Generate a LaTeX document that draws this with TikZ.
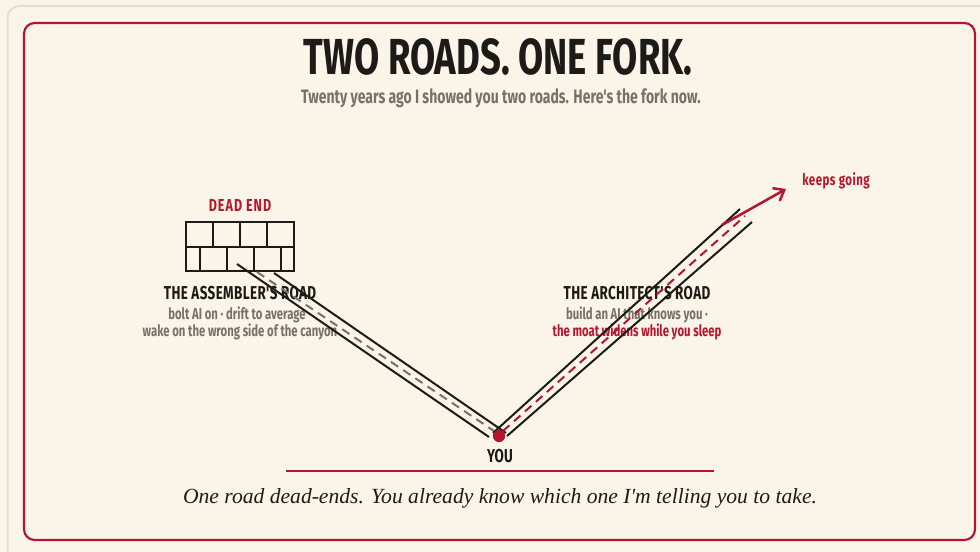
\documentclass[tikz,border=0pt]{standalone}
\usepackage{fontspec}
\usepackage{xcolor}
\setmainfont{Liberation Serif}[Ligatures=TeXOff]
\newfontfamily\oswald[FakeStretch=0.72]{Fira Sans}
\usetikzlibrary{arrows.meta}
\definecolor{paper}{HTML}{FBF5E9}
\definecolor{rim}{HTML}{E8DDC5}
\definecolor{crimson}{HTML}{B3172F}
\definecolor{ink}{HTML}{1C1B17}
\definecolor{ash}{HTML}{76716A}

\begin{document}
\begin{tikzpicture}[
    x=0.75pt, y=-0.75pt,
    every node/.style={inner sep=0pt, anchor=base},
    head/.style={font=\oswald\bfseries\fontsize{14}{16}\selectfont\addfontfeature{LetterSpace=2}, text=ink},
    note/.style={font=\oswald\bfseries\fontsize{11.8}{14}\selectfont, text=ash},
    hot/.style={note, text=crimson},
    kerb/.style={draw=ink, line width=1.5pt},
    lane/.style={line width=1.5pt, dash pattern=on 6.5pt off 4.5pt}
  ]
    \fill[paper] (0,0) rectangle (980,552);
    \useasboundingbox (0,0) rectangle (980,552);
    \draw[rim, line width=1.5pt, rounded corners=9pt] (7.5,6) rectangle (1000,575);
    \draw[crimson, line width=1.6pt, rounded corners=8pt] (24,23) rectangle (975,540);

    % headings
    \node[font=\oswald\bfseries\fontsize{38}{42}\selectfont, text=ink] (title) at (498,75) {TWO ROADS. ONE FORK.};
    \node[font=\oswald\bfseries\fontsize{14.6}{17}\selectfont, text=ash] (sub) at (501,104) {Twenty years ago I showed you two roads. Here's the fork now.};

    % dead end wall
    \node[head, text=crimson, font=\oswald\bfseries\fontsize{13}{15}\selectfont\addfontfeature{LetterSpace=6}] (dead) at (240,212) {DEAD END};
    \draw[kerb] (186,222) rectangle (294,271);
    \draw[kerb] (186,247) -- (294,247)
      (213,222) -- (213,247) (240,222) -- (240,247) (267,222) -- (267,247)
      (200,247) -- (200,271) (227,247) -- (227,271) (254,247) -- (254,271) (281,247) -- (281,271);

    % road labels
    \node[head] (asm) at (240,299) {THE ASSEMBLER'S ROAD};
    \node[note] (asm1) at (237,319) {bolt AI on · drift to average};
    \node[note] (asm2) at (240,336) {wake on the wrong side of the canyon};
    \node[head] (arc) at (637,299) {THE ARCHITECT'S ROAD};
    \node[note] (arc1) at (637,319) {build an AI that knows you ·};
    \node[hot] (arc2) at (637,336) {the moat widens while you sleep};
    \node[hot, anchor=base west, font=\oswald\bfseries\fontsize{12}{14}\selectfont\addfontfeature{LetterSpace=3}] (goes) at (802,186) {keeps going};

    % the two roads
    \coordinate (fork) at (499,436);
    \coordinate (asmA) at (237,264); \coordinate (asmB) at (489,437);
    \coordinate (asmC) at (274,273); \coordinate (asmD) at (506,433);
    \coordinate (asmE) at (257,272); \coordinate (asmF) at (494,431);
    \coordinate (arcA) at (493,433); \coordinate (arcB) at (740,209);
    \coordinate (arcC) at (507,436); \coordinate (arcD) at (752,222);
    \coordinate (arcE) at (503,431); \coordinate (arcF) at (745,216);
    \coordinate (tip) at (786,189); \coordinate (tail) at (722,225);

    \draw[kerb] (asmA) -- (asmB) (asmC) -- (asmD);
    \draw[lane, draw=ash] (asmE) -- (asmF);
    \draw[kerb] (arcA) -- (arcB) (arcC) -- (arcD);
    \draw[lane, draw=crimson] (arcE) -- (arcF);
    \draw[crimson, line width=1.9pt, -{Straight Barb[length=7pt,width=11pt]}] (tail) -- (tip);
    \fill[crimson] (fork) circle[radius=4.6pt];
    \node[head, font=\oswald\bfseries\fontsize{14}{16}\selectfont] (you) at (500,462) {YOU};

    % closing line
    \draw[crimson, line width=1.1pt] (286,471) -- (714,471);
    \node[font=\itshape\fontsize{16.2}{19}\selectfont, text=ink] (motto) at (500,503) {One road dead-ends. You already know which one I'm telling you to take.};
\end{tikzpicture}
\end{document}
